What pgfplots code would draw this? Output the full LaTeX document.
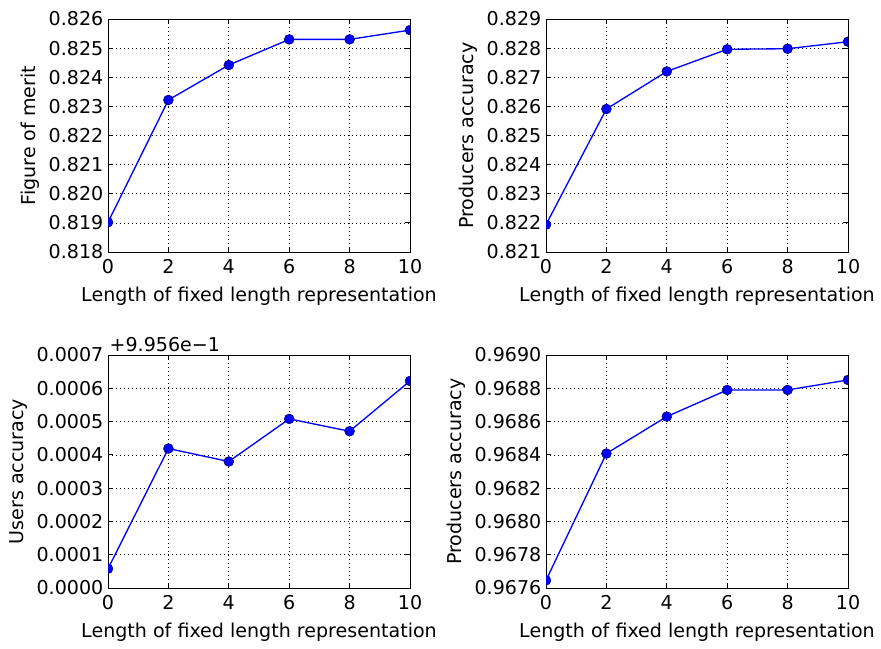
\documentclass[border=0pt]{standalone}
\usepackage{pgfplots}
\pgfplotsset{compat=1.18}
\usepackage{fontspec}
\setmainfont{DejaVu Sans}

% one reference pixel = 0.75pt
\pgfplotsset{
  panel/.style={
    scale only axis,
    width=226.5pt, height=174.75pt,
    xmin=0, xmax=10, xtick={0,2,4,6,8,10},
    grid=major,
    major grid style={black, line width=0.5pt, dash pattern=on 0.75pt off 2.25pt},
    axis line style={line width=0.75pt},
    tick style={black, line width=0.6pt},
    major tick length=3.5pt,
    clip mode=individual,
    clip marker paths=true,
    scaled y ticks=false,
    xlabel={Length of fixed length representation},
    xlabel style={yshift=-3pt},
    xticklabel style={yshift=-2pt},
    /pgf/number format/assume math mode=true,
    tick label style={font=\fontsize{14.3}{16}\selectfont},
    label style={font=\fontsize{14.3}{16}\selectfont},
    yticklabel style={/pgf/number format/fixed, /pgf/number format/fixed zerofill},
  },
  series/.style={blue, line width=1pt, mark=*, mark size=3.7pt,
    mark options={fill=blue, draw=black!60!blue, line width=0.4pt}},
}

\begin{document}
\begin{tikzpicture}
\useasboundingbox (0,0) rectangle (660.75pt,-486.75pt);

% top left
\begin{axis}[panel, at={(81pt,-189pt)}, anchor=south west,
    ymin=0.818, ymax=0.826,
    ytick={0.818,0.819,0.820,0.821,0.822,0.823,0.824,0.825,0.826},
    yticklabel style={/pgf/number format/precision=3},
    ylabel={Figure of merit}]
  \addplot[series] coordinates {(0,0.81902) (2,0.82322) (4,0.82442) (6,0.82530) (8,0.82530) (10,0.82562)};
\end{axis}

% top right
\begin{axis}[panel, at={(409.5pt,-189pt)}, anchor=south west,
    ymin=0.821, ymax=0.829,
    ytick={0.821,0.822,0.823,0.824,0.825,0.826,0.827,0.828,0.829},
    yticklabel style={/pgf/number format/precision=3},
    ylabel={Producers accuracy}]
  \addplot[series] coordinates {(0,0.82194) (2,0.82591) (4,0.82720) (6,0.82796) (8,0.82798) (10,0.82822)};
\end{axis}

% bottom left (values relative to offset 0.9956)
\begin{axis}[panel, at={(81pt,-441pt)}, anchor=south west,
    ymin=0, ymax=0.0007,
    ytick={0,0.0001,0.0002,0.0003,0.0004,0.0005,0.0006,0.0007},
    yticklabel style={/pgf/number format/precision=4},
    ylabel={Users accuracy}]
  \addplot[series] coordinates {(0,0.000058) (2,0.000419) (4,0.000380) (6,0.000508) (8,0.000471) (10,0.000622)};
  \node[anchor=south west, inner sep=0pt, yshift=2.5pt, xshift=1pt, font=\fontsize{14.3}{16}\selectfont]
    at (rel axis cs:0,1) {+9.956e−1};
\end{axis}

% bottom right
\begin{axis}[panel, at={(409.5pt,-441pt)}, anchor=south west,
    ymin=0.9676, ymax=0.9690,
    ytick={0.9676,0.9678,0.9680,0.9682,0.9684,0.9686,0.9688,0.9690},
    yticklabel style={/pgf/number format/precision=4},
    ylabel={Producers accuracy}]
  \addplot[series] coordinates {(0,0.967646) (2,0.968408) (4,0.968630) (6,0.968790) (8,0.968790) (10,0.968850)};
\end{axis}
\end{tikzpicture}
\end{document}
